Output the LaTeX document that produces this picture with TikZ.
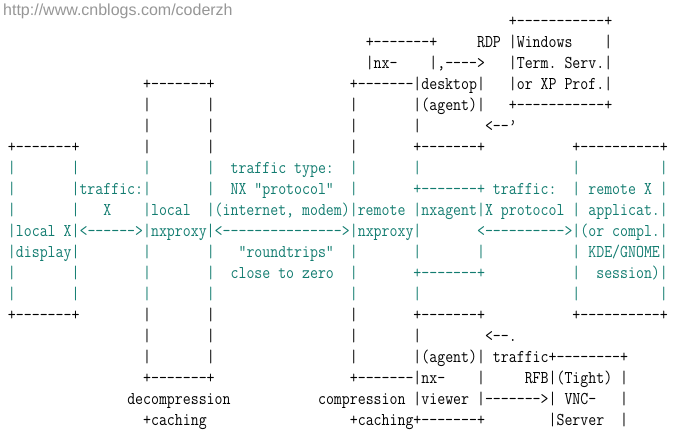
\documentclass[tikz,border=0pt]{standalone}
\usepackage{fontspec}
\usepackage{graphicx}
\newfontfamily\urlfont{Liberation Sans}
\definecolor{tealc}{RGB}{18,124,112}
\definecolor{urlgray}{RGB}{150,150,150}
\newdimen\chw
\newcommand\mono{\fontsize{18pt}{21pt}\selectfont\ttfamily\frenchspacing}
\AtBeginDocument{\setbox0\hbox{\mono M}\global\chw=\wd0\relax}
\newcommand\dsh[1]{\foreach\k in {1,...,#1}{-\kern0pt}}
\newcommand\ch[4]{\node[asc] (#1) at ({8+7.95*#3},{-(26+21.05*#2)}) {\scalebox{\sx}[1]{\mono #4}};}
\tikzset{asc/.style={anchor=base west, inner sep=0pt, outer sep=0pt}}
\begin{document}
\begin{tikzpicture}[x=1pt,y=1pt]
\useasboundingbox (0,0) rectangle (681,-445);
\pgfmathsetmacro\sx{7.95/\chw}
\node[anchor=base west, inner sep=0pt, text=urlgray, font=\urlfont\fontsize{16pt}{18pt}\selectfont] (url) at (3,-15) {http://www.cnblogs.com/coderzh};
% row 0
\ch{r0a}{0}{63}{+\dsh{11}+}
% row 1
\ch{r1a}{1}{45}{+\dsh{7}+}
\ch{r1b}{1}{59}{RDP}
\ch{r1c}{1}{63}{|Windows}
\ch{r1d}{1}{75}{|}
% row 2
\ch{r2a}{2}{45}{|nx-}
\ch{r2b}{2}{53}{|,\dsh{4}>}
\ch{r2c}{2}{63}{|Term. Serv.|}
% row 3
\ch{r3a}{3}{17}{+\dsh{7}+}
\ch{r3b}{3}{43}{+\dsh{7}|desktop|}
\ch{r3c}{3}{63}{|or XP Prof.|}
% row 4
\ch{r4a}{4}{17}{|}
\ch{r4b}{4}{25}{|}
\ch{r4c}{4}{43}{|}
\ch{r4d}{4}{51}{|(agent)|}
\ch{r4e}{4}{63}{+\dsh{11}+}
% row 5
\ch{r5a}{5}{17}{|}
\ch{r5b}{5}{25}{|}
\ch{r5c}{5}{43}{|}
\ch{r5d}{5}{51}{|}
\ch{r5e}{5}{60}{<\dsh{2}’}
% row 6
\ch{r6a}{6}{0}{+\dsh{7}+}
\ch{r6b}{6}{17}{|}
\ch{r6c}{6}{25}{|}
\ch{r6d}{6}{43}{|}
\ch{r6e}{6}{51}{+\dsh{7}+}
\ch{r6f}{6}{71}{+\dsh{10}+}
\begin{scope}[every node/.append style={text=tealc}]
% row 7
\ch{r7a}{7}{0}{|}
\ch{r7b}{7}{8}{|}
\ch{r7c}{7}{17}{|}
\ch{r7d}{7}{25}{|}
\ch{r7e}{7}{28}{traffic type:}
\ch{r7f}{7}{43}{|}
\ch{r7g}{7}{51}{|}
\ch{r7h}{7}{71}{|}
\ch{r7i}{7}{82}{|}
% row 8
\ch{r8a}{8}{0}{|}
\ch{r8b}{8}{8}{|traffic:|}
\ch{r8c}{8}{25}{|}
\ch{r8d}{8}{28}{NX "protocol"}
\ch{r8e}{8}{43}{|}
\ch{r8f}{8}{51}{+\dsh{7}+}
\ch{r8g}{8}{61}{traffic:}
\ch{r8h}{8}{71}{|}
\ch{r8i}{8}{73}{remote X}
\ch{r8j}{8}{82}{|}
% row 9
\ch{r9a}{9}{0}{|}
\ch{r9b}{9}{8}{|}
\ch{r9c}{9}{12}{X}
\ch{r9d}{9}{17}{|local}
\ch{r9e}{9}{25}{|(internet, modem)|remote}
\ch{r9f}{9}{51}{|nxagent|X protocol}
\ch{r9g}{9}{71}{|}
\ch{r9h}{9}{73}{applicat.|}
% row 10
\ch{r10a}{10}{0}{|local X|}
\ch{r10b}{10}{9}{<\dsh{6}>}
\ch{r10c}{10}{17}{|nxproxy|}
\ch{r10d}{10}{26}{<\dsh{15}>}
\ch{r10e}{10}{43}{|nxproxy|}
\ch{r10f}{10}{59}{<\dsh{10}>}
\ch{r10g}{10}{71}{|(or compl.|}
% row 11
\ch{r11a}{11}{0}{|display|}
\ch{r11b}{11}{17}{|}
\ch{r11c}{11}{25}{|}
\ch{r11d}{11}{29}{"roundtrips"}
\ch{r11e}{11}{43}{|}
\ch{r11f}{11}{51}{|}
\ch{r11g}{11}{59}{|}
\ch{r11h}{11}{71}{|}
\ch{r11i}{11}{73}{KDE/GNOME|}
% row 12
\ch{r12a}{12}{0}{|}
\ch{r12b}{12}{8}{|}
\ch{r12c}{12}{17}{|}
\ch{r12d}{12}{25}{|}
\ch{r12e}{12}{28}{close to zero}
\ch{r12f}{12}{43}{|}
\ch{r12g}{12}{51}{+\dsh{7}+}
\ch{r12h}{12}{71}{|}
\ch{r12i}{12}{74}{session)|}
% row 13
\ch{r13a}{13}{0}{|}
\ch{r13b}{13}{8}{|}
\ch{r13c}{13}{17}{|}
\ch{r13d}{13}{25}{|}
\ch{r13e}{13}{43}{|}
\ch{r13f}{13}{51}{|}
\ch{r13g}{13}{71}{|}
\ch{r13h}{13}{82}{|}
\end{scope}
% row 14
\ch{r14a}{14}{0}{+\dsh{7}+}
\ch{r14b}{14}{17}{|}
\ch{r14c}{14}{25}{|}
\ch{r14d}{14}{43}{|}
\ch{r14e}{14}{51}{+\dsh{7}+}
\ch{r14f}{14}{71}{+\dsh{10}+}
% row 15
\ch{r15a}{15}{17}{|}
\ch{r15b}{15}{25}{|}
\ch{r15c}{15}{43}{|}
\ch{r15d}{15}{51}{|}
\ch{r15e}{15}{60}{<\dsh{2}.}
% row 16
\ch{r16a}{16}{17}{|}
\ch{r16b}{16}{25}{|}
\ch{r16c}{16}{43}{|}
\ch{r16d}{16}{51}{|(agent)|}
\ch{r16e}{16}{61}{traffic}
\ch{r16f}{16}{68}{+\dsh{8}+}
% row 17
\ch{r17a}{17}{17}{+\dsh{7}+}
\ch{r17b}{17}{43}{+\dsh{7}|nx-}
\ch{r17c}{17}{59}{|}
\ch{r17d}{17}{65}{RFB|(Tight)}
\ch{r17e}{17}{77}{|}
% row 18
\ch{r18a}{18}{15}{decompression}
\ch{r18b}{18}{39}{compression}
\ch{r18c}{18}{51}{|viewer}
\ch{r18d}{18}{59}{|\dsh{7}>|}
\ch{r18e}{18}{70}{VNC-}
\ch{r18f}{18}{77}{|}
% row 19
\ch{r19a}{19}{17}{+caching}
\ch{r19b}{19}{43}{+caching+\dsh{7}+}
\ch{r19c}{19}{68}{|Server}
\ch{r19d}{19}{77}{|}
\end{tikzpicture}
\end{document}
